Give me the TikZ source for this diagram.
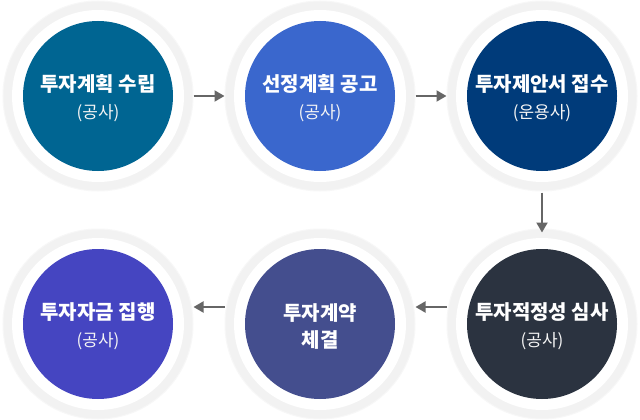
\documentclass[tikz,border=0pt]{standalone}
\usepackage{fontspec}
\setmainfont{Noto Sans CJK KR}
\usetikzlibrary{arrows.meta}
\definecolor{ringgray}{HTML}{F2F2F2}
\definecolor{arrowgray}{HTML}{666666}
\definecolor{cA}{HTML}{006592}
\definecolor{cB}{HTML}{3A67CD}
\definecolor{cC}{HTML}{003B7A}
\definecolor{cD}{HTML}{2B3340}
\definecolor{cE}{HTML}{444E8E}
\definecolor{cF}{HTML}{4545C1}
\tikzset{
  ring/.style={circle, minimum size=190pt, inner sep=0pt, fill=ringgray, draw=ringgray!60!white, line width=1pt},
  gap/.style={circle, minimum size=172pt, inner sep=0pt, fill=white},
  disc/.style={circle, minimum size=150pt, inner sep=0pt, fill=#1},
  disctext/.style={text=white, align=center, font=\fontsize{20}{27}\selectfont, yshift=-2pt, inner sep=0pt},
  flow/.style={draw=arrowgray, line width=2pt, -{Triangle[length=10pt,width=11pt]}},
}
\newcommand{\ttl}[1]{\textbf{#1}}
\newcommand{\sub}[1]{{\fontsize{17}{27}\selectfont\color{white!92!gray}#1}}
\begin{document}
\begin{tikzpicture}[x=1pt,y=-1pt]
\useasboundingbox (0,0) rectangle (640,420);
\fill[white] (0,0) rectangle (640,420);
% rings
\node[ring] (r1) at (98,96) {};
\node[ring] (r2) at (320,96) {};
\node[ring] (r3) at (542,96) {};
\node[ring] (r4) at (542,324) {};
\node[ring] (r5) at (320,324) {};
\node[ring] (r6) at (98,324) {};
\foreach \n/\x/\y in {1/98/96,2/320/96,3/542/96,4/542/324,5/320/324,6/98/324}
  \node[gap] (g\n) at (\x,\y) {};
% discs
\node[disc=cA, label={[disctext]center:\ttl{투자계획 수립}\\\sub{(공사)}}] (d1) at (98,96) {};
\node[disc=cB, label={[disctext]center:\ttl{선정계획 공고}\\\sub{(공사)}}] (d2) at (320,96) {};
\node[disc=cC, label={[disctext]center:\ttl{투자제안서 접수}\\\sub{(운용사)}}] (d3) at (542,96) {};
\node[disc=cD, label={[disctext]center:\ttl{투자적정성 심사}\\\sub{(공사)}}] (d4) at (542,324) {};
\node[disc=cE, label={[disctext]center:\ttl{투자계약}\\\ttl{체결}}] (d5) at (320,324) {};
\node[disc=cF, label={[disctext]center:\ttl{투자자금 집행}\\\sub{(공사)}}] (d6) at (98,324) {};
% arrows
\draw[flow] (r1.east) -- (r2.west);
\draw[flow] (r2.east) -- (r3.west);
\draw[flow] ([yshift=-1pt]r3.south) -- ([yshift=-4pt]r4.north);
\draw[flow] ([yshift=17pt]r4.west) -- ([yshift=17pt]r5.east);
\draw[flow] ([yshift=17pt]r5.west) -- ([yshift=17pt]r6.east);
\end{tikzpicture}
\end{document}
